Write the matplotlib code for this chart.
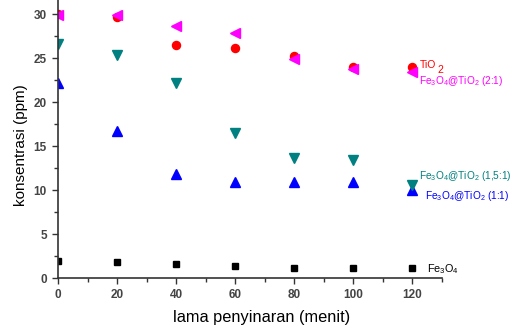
import matplotlib
matplotlib.use("Agg")
import matplotlib.pyplot as plt
from matplotlib.ticker import MultipleLocator

plt.rcParams['font.family'] = ['Liberation Sans', 'DejaVu Sans']
plt.rcParams['mathtext.fontset'] = 'custom'
plt.rcParams['mathtext.rm'] = 'Liberation Sans'

time = [0, 20, 40, 60, 80, 100, 120]
tio2 = [30.0, 29.7, 26.5, 26.2, 25.2, 24.0, 24.0]
fe_tio2_21 = [29.9, 29.9, 28.6, 27.8, 24.9, 23.8, 23.4]
fe_tio2_151 = [26.6, 25.3, 22.2, 16.5, 13.7, 13.4, 10.6]
fe_tio2_11 = [22.2, 16.7, 11.8, 10.9, 10.9, 10.9, 10.0]
fe3o4 = [1.93, 1.8, 1.66, 1.43, 1.2, 1.2, 1.2]

fig = plt.figure(figsize=(5.21, 3.26), dpi=100)
ax = fig.add_axes([0.1113, 0.1463, 0.7370, 0.8537])

ax.plot(time, fe3o4, 's', color='black', ms=5, zorder=3)
ax.plot(time, fe_tio2_11, '^', color='#0000FF', ms=6.5, zorder=3)
ax.plot(time, fe_tio2_151, 'v', color='#008080', ms=6.5, zorder=3)
ax.plot(time, tio2, 'o', color='#FF0000', ms=5.8, zorder=3)
ax.plot(time, fe_tio2_21, '<', color='#FF00FF', ms=6.5, zorder=4)

ax.set_xlim(0, 130)
ax.set_ylim(0, 31.6)
ax.xaxis.set_major_locator(MultipleLocator(20))
ax.xaxis.set_minor_locator(MultipleLocator(10))
ax.yaxis.set_major_locator(MultipleLocator(5))
ax.yaxis.set_minor_locator(MultipleLocator(2.5))
ax.set_xticks([0, 20, 40, 60, 80, 100, 120])

for s in ['top', 'right']:
    ax.spines[s].set_visible(False)
for s in ['left', 'bottom']:
    ax.spines[s].set_color('#333333')
    ax.spines[s].set_linewidth(1.2)
    ax.spines[s].set_zorder(5)

ax.tick_params(which='major', direction='out', length=4, width=1, color='#333333',
               labelsize=8.5, labelcolor='#444444', pad=4)
ax.tick_params(which='minor', direction='out', length=3, width=1, color='#333333')
for lab in ax.get_xticklabels() + ax.get_yticklabels():
    lab.set_fontweight('bold')

ax.set_xlabel('lama penyinaran (menit)', fontsize=11.8)
ax.xaxis.set_label_coords(0.529, -0.115)
ax.set_ylabel('konsentrasi (ppm)', fontsize=11)
ax.yaxis.set_label_coords(-0.078, 0.48)

kw = dict(transform=ax.transData, fontsize=7.3, clip_on=False, va='center')
ax.text(122.5, 24.25, 'TiO', color='#FF0000', fontsize=7.5, transform=ax.transData,
        clip_on=False, va='center')
ax.text(128.3, 23.7, '2', color='#FF0000', fontsize=7.5, transform=ax.transData,
        clip_on=False, va='center')
ax.text(122.2, 22.4, r'Fe$_3$O$_4$@TiO$_2$ (2:1)', color='#FF00FF', **kw)
ax.text(122.2, 11.6, r'Fe$_3$O$_4$@TiO$_2$ (1,5:1)', color='#008080', **kw)
ax.text(124.2, 9.3, r'Fe$_3$O$_4$@TiO$_2$ (1:1)', color='#0000FF', **kw)
ax.text(124.9, 1.0, r'Fe$_3$O$_4$', color='black', fontsize=7.8,
        transform=ax.transData, clip_on=False, va='center')

fig.savefig('out.png', dpi=100)
